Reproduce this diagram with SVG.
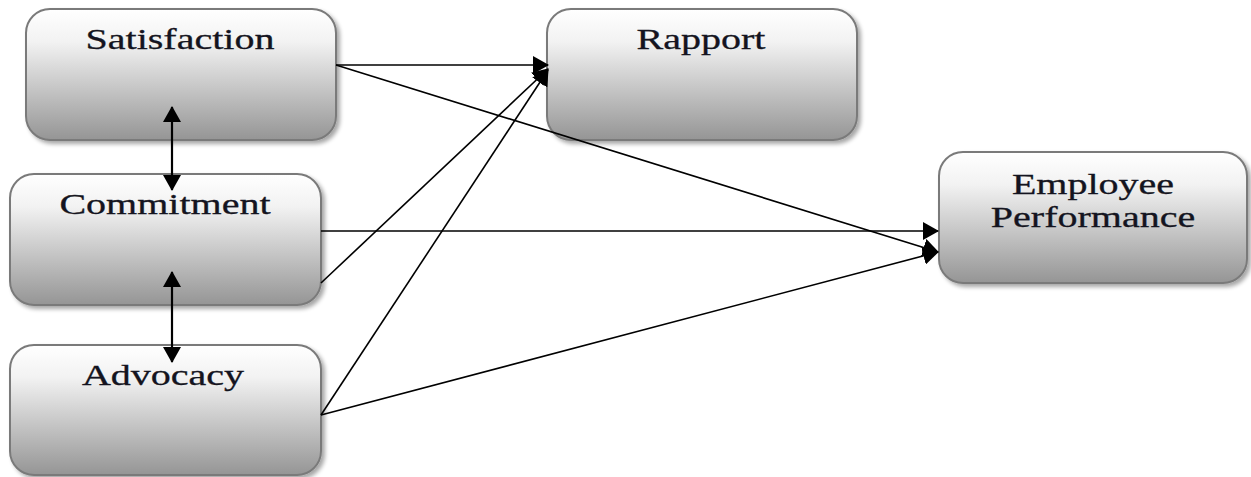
<svg xmlns="http://www.w3.org/2000/svg" width="1251" height="477" viewBox="0 0 1251 477">
<style>
.box{fill:url(#g);stroke:#7a7a7a;stroke-width:2;filter:url(#sh)}
.lbl{font-family:"Liberation Serif","Times New Roman",serif;font-size:29px;fill:#141420;text-anchor:middle;stroke:#141420;stroke-width:0.3}
.c{stroke:#000;stroke-width:1.6;fill:none}
.v{stroke:#000;stroke-width:2.2;fill:none}
</style>
<defs>
<linearGradient id="g" x1="0" y1="0" x2="0" y2="1">
<stop offset="0" stop-color="#ffffff"/>
<stop offset="0.25" stop-color="#f2f2f2"/>
<stop offset="1" stop-color="#959595"/>
</linearGradient>
<filter id="sh" x="-5%" y="-5%" width="115%" height="120%">
<feGaussianBlur in="SourceAlpha" stdDeviation="2"/>
<feOffset dx="3" dy="3"/>
<feComponentTransfer><feFuncA type="linear" slope="0.35"/></feComponentTransfer>
<feMerge><feMergeNode/><feMergeNode in="SourceGraphic"/></feMerge>
</filter>
<marker id="ah" markerUnits="userSpaceOnUse" markerWidth="16" markerHeight="18" viewBox="0 0 16 18" refX="15" refY="9" orient="auto-start-reverse">
<path d="M0,0 L16,9 L0,18 Z" fill="#000"/>
</marker>
</defs>
<g id="satisfaction"><rect class="box" x="26" y="9" width="310" height="131" rx="24"/><text class="lbl" transform="translate(180,49) scale(1.38,1)">Satisfaction</text></g>
<g id="commitment"><rect class="box" x="10" y="174" width="311" height="131" rx="24"/><text class="lbl" transform="translate(165,214) scale(1.38,1)">Commitment</text></g>
<g id="advocacy"><rect class="box" x="10" y="345" width="311" height="130" rx="24"/><text class="lbl" transform="translate(163,385) scale(1.38,1)">Advocacy</text></g>
<g id="rapport"><rect class="box" x="547" y="9" width="310" height="131" rx="24"/><text class="lbl" transform="translate(701,49) scale(1.38,1)">Rapport</text></g>
<g id="employee-performance"><rect class="box" x="939" y="152" width="308" height="131" rx="24"/><text class="lbl" transform="translate(1093,194) scale(1.38,1)">Employee</text><text class="lbl" transform="translate(1093,227) scale(1.38,1)">Performance</text></g>
<g id="connectors">
<line class="v" x1="172" y1="107" x2="172" y2="190" marker-start="url(#ah)" marker-end="url(#ah)"/>
<line class="v" x1="172" y1="272" x2="172" y2="362" marker-start="url(#ah)" marker-end="url(#ah)"/>
<line class="c" x1="336" y1="65" x2="548" y2="65" marker-end="url(#ah)"/>
<line class="c" x1="336" y1="65" x2="938" y2="252" marker-end="url(#ah)"/>
<line class="c" x1="321" y1="231" x2="938" y2="231" marker-end="url(#ah)"/>
<line class="c" x1="321" y1="283" x2="548" y2="69" marker-end="url(#ah)"/>
<line class="c" x1="321" y1="415" x2="548" y2="70" marker-end="url(#ah)"/>
<line class="c" x1="321" y1="415" x2="938" y2="252" marker-end="url(#ah)"/>
</g>
</svg>
